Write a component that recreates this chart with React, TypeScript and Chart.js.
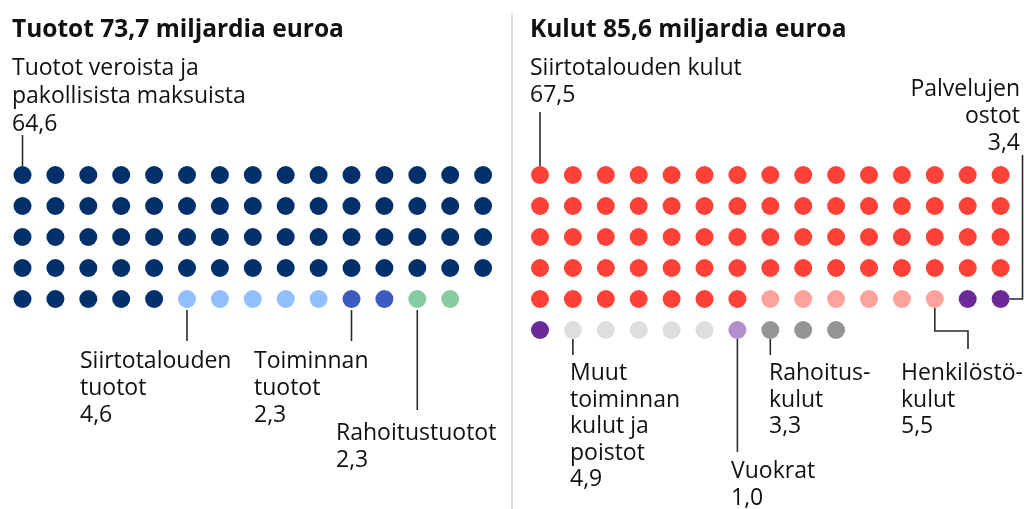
import React, { useEffect, useRef } from "react";
import { Chart, registerables } from "chart.js";

Chart.register(...registerables);

// ---- Data ----
const leftTotal = 73.7;
const rightTotal = 85.6;

const leftCategories = [
  "Tuotot veroista ja pakollisista maksuista",
  "Siirtotalouden tuotot",
  "Toiminnan tuotot",
  "Rahoitustuotot",
];
const leftValues = [64.6, 4.6, 2.3, 2.3];
const leftDotCounts = [65, 5, 2, 2];
const leftColors = ["#00306b", "#91bfff", "#3b5bbf", "#87cca0"];
const leftLabelLines = [
  ["Tuotot veroista ja", "pakollisista maksuista"],
  ["Siirtotalouden", "tuotot"],
  ["Toiminnan", "tuotot"],
  ["Rahoitustuotot"],
];

const rightCategories = [
  "Siirtotalouden kulut",
  "Henkilöstökulut",
  "Palvelujen ostot",
  "Muut toiminnan kulut ja poistot",
  "Vuokrat",
  "Rahoituskulut",
];
const rightValues = [67.5, 5.5, 3.4, 4.9, 1.0, 3.3];
const rightDotCounts = [67, 6, 3, 5, 1, 3];
const rightColors = ["#ff4137", "#ffa29b", "#6b2a98", "#dedede", "#b48fcc", "#959595"];
const rightLabelLines = [
  ["Siirtotalouden kulut"],
  ["Henkilöstö-", "kulut"],
  ["Palvelujen", "ostot"],
  ["Muut", "toiminnan", "kulut ja", "poistot"],
  ["Vuokrat"],
  ["Rahoitus-", "kulut"],
];

// ---- Layout ----
const W = 1024;
const H = 509;
const COLS = 15;
const DX = 32.9; // px per column
const DY = 31; // px per row
const X0 = 22.5; // px of first column
const Y0 = 175; // px of first row
const RIGHT_OFFSET = (540 - X0) / DX; // right panel, in column units
const R = 9;

const fmt = (v: number) => v.toFixed(1).replace(".", ",");

function buildPoints(counts: number[], offset: number) {
  let idx = 0;
  return counts.map((c) => {
    const pts: { x: number; y: number }[] = [];
    for (let k = 0; k < c; k++) {
      pts.push({ x: offset + (idx % COLS), y: Math.floor(idx / COLS) });
      idx++;
    }
    return pts;
  });
}

type Ann = {
  side: "left" | "right";
  cat: number;
  dot: number; // index within the category
  x: number;
  y: number;
  lh: number;
  align: CanvasTextAlign;
  path: (px: number, py: number) => [number, number][];
};

const annotations: Ann[] = [
  { side: "left", cat: 0, dot: 0, x: 12, y: 75, lh: 28, align: "left", path: (px, py) => [[px, 135], [px, py - R]] },
  { side: "left", cat: 1, dot: 0, x: 80, y: 368, lh: 27, align: "left", path: (px, py) => [[px, py + R + 2], [px, 341]] },
  { side: "left", cat: 2, dot: 0, x: 254, y: 368, lh: 27, align: "left", path: (px, py) => [[px, py + R + 2], [px, 341]] },
  { side: "left", cat: 3, dot: 0, x: 336, y: 440, lh: 27, align: "left", path: (px, py) => [[px, py + R + 2], [px, 410]] },
  { side: "right", cat: 0, dot: 0, x: 530, y: 75, lh: 27, align: "left", path: (px, py) => [[px, 112], [px, py - R]] },
  { side: "right", cat: 1, dot: 5, x: 901, y: 380, lh: 26.5, align: "left", path: (px, py) => [[px, py + R], [px, 331], [968, 331], [968, 349]] },
  { side: "right", cat: 2, dot: 1, x: 1020, y: 96, lh: 27, align: "right", path: (px, py) => [[px + R, py], [1022.5, py], [1022.5, 155]] },
  { side: "right", cat: 3, dot: 0, x: 570, y: 380, lh: 26.5, align: "left", path: (px, py) => [[px, py + R], [px, 355]] },
  { side: "right", cat: 4, dot: 0, x: 731, y: 478, lh: 27, align: "left", path: (px, py) => [[px, py + R], [px, 452]] },
  { side: "right", cat: 5, dot: 0, x: 769, y: 380, lh: 26.5, align: "left", path: (px, py) => [[px, py + R], [px, 355]] },
];

const TEXT = "#111111";
const LABEL_FONT = "23px 'Open Sans'";
const TITLE_FONT = "bold 24.5px 'Open Sans'";

export default function App() {
  const ref = useRef<HTMLCanvasElement | null>(null);

  useEffect(() => {
    if (!ref.current) return;
    const leftPts = buildPoints(leftDotCounts, 0);
    const rightPts = buildPoints(rightDotCounts, RIGHT_OFFSET);

    const datasets: any[] = [];
    leftCategories.forEach((name, i) =>
      datasets.push({
        label: name,
        data: leftPts[i],
        backgroundColor: leftColors[i],
        borderWidth: 0,
        pointRadius: R,
        pointHoverRadius: R,
      })
    );
    rightCategories.forEach((name, i) =>
      datasets.push({
        label: name,
        data: rightPts[i],
        backgroundColor: rightColors[i],
        borderWidth: 0,
        pointRadius: R,
        pointHoverRadius: R,
      })
    );

    const decor = {
      id: "decor",
      beforeDatasetsDraw(chart: any) {
        const ctx = chart.ctx as CanvasRenderingContext2D;
        ctx.save();
        // divider
        ctx.strokeStyle = "#dcdcdc";
        ctx.lineWidth = 2;
        ctx.beginPath();
        ctx.moveTo(512, 13);
        ctx.lineTo(512, H);
        ctx.stroke();
        ctx.restore();
      },
      afterDatasetsDraw(chart: any) {
        const ctx = chart.ctx as CanvasRenderingContext2D;
        const xs = chart.scales.x;
        const ys = chart.scales.y;
        ctx.save();
        ctx.fillStyle = TEXT;
        ctx.textBaseline = "alphabetic";
        ctx.font = TITLE_FONT;
        ctx.textAlign = "left";
        ctx.fillText(`Tuotot ${fmt(leftTotal)} miljardia euroa`, 12, 37);
        ctx.fillText(`Kulut ${fmt(rightTotal)} miljardia euroa`, 530, 37);

        ctx.font = LABEL_FONT;
        annotations.forEach((a) => {
          const pts = a.side === "left" ? leftPts : rightPts;
          const lines = a.side === "left" ? leftLabelLines[a.cat] : rightLabelLines[a.cat];
          const val = a.side === "left" ? leftValues[a.cat] : rightValues[a.cat];
          const p = pts[a.cat][a.dot];
          const px = xs.getPixelForValue(p.x);
          const py = ys.getPixelForValue(p.y);
          const path = a.path(px, py);
          ctx.strokeStyle = "#2a2a2a";
          ctx.lineWidth = 1.6;
          ctx.beginPath();
          path.forEach(([x, y], k) => (k === 0 ? ctx.moveTo(x, y) : ctx.lineTo(x, y)));
          ctx.stroke();
          ctx.textAlign = a.align;
          const all = [...lines, fmt(val)];
          all.forEach((t, k) => ctx.fillText(t, a.x, a.y + k * a.lh));
        });
        ctx.restore();
      },
    };

    const chart = new Chart(ref.current, {
      type: "scatter",
      data: { datasets },
      options: {
        animation: false,
        responsive: false,
        devicePixelRatio: 1,
        layout: { autoPadding: false, padding: 0 },
        plugins: { legend: { display: false }, tooltip: { enabled: false }, title: { display: false } },
        events: [],
        scales: {
          x: { type: "linear", display: false, min: -X0 / DX, max: (W - X0) / DX },
          y: { type: "linear", display: false, reverse: true, min: -Y0 / DY, max: (H - Y0) / DY },
        },
      },
      plugins: [decor],
    });
    return () => chart.destroy();
  }, []);

  return (
    <div style={{ position: "absolute", left: 0, top: 0, width: W, height: H, background: "#fff" }}>
      <canvas ref={ref} width={W} height={H} style={{ display: "block", width: W, height: H }} />
    </div>
  );
}
